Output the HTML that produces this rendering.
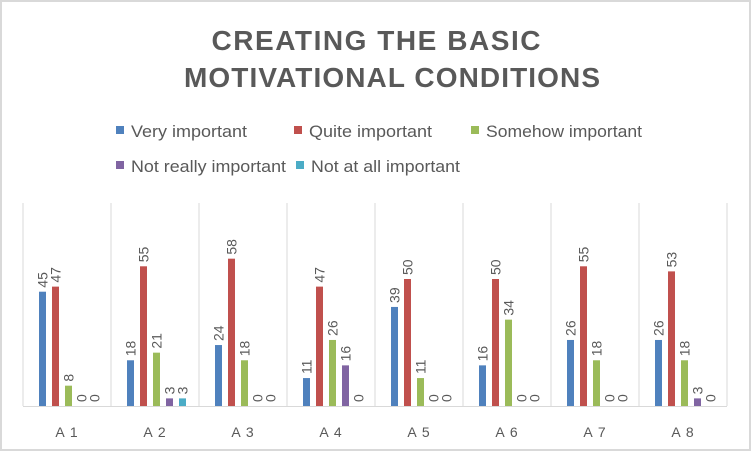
<!DOCTYPE html>
<html><head><style>html,body{margin:0;padding:0;background:#fff}svg{display:block}</style></head>
<body>
<svg width="752" height="452" xmlns="http://www.w3.org/2000/svg" font-family="Liberation Sans, sans-serif">
<rect x="0" y="0" width="752" height="452" fill="#fff"/>
<rect x="1" y="1" width="749" height="449" fill="none" stroke="#d9d9d9" stroke-width="2"/>
<text x="376" y="50" text-anchor="middle" font-size="28" font-weight="bold" fill="#595959" textLength="329" lengthAdjust="spacing">CREATING THE BASIC</text>
<text x="392" y="87" text-anchor="middle" font-size="28" font-weight="bold" fill="#595959" textLength="416" lengthAdjust="spacing">MOTIVATIONAL CONDITIONS</text>
<g font-size="17" fill="#595959">
<rect x="116" y="126" width="8" height="8" fill="#4f81bd"/><text x="131" y="137" textLength="116" lengthAdjust="spacingAndGlyphs">Very important</text>
<rect x="294" y="126" width="8" height="8" fill="#c0504d"/><text x="309" y="137" textLength="123" lengthAdjust="spacingAndGlyphs">Quite important</text>
<rect x="471" y="126" width="8" height="8" fill="#9bbb59"/><text x="486" y="137" textLength="156" lengthAdjust="spacingAndGlyphs">Somehow important</text>
<rect x="116" y="161" width="8" height="8" fill="#8064a2"/><text x="131" y="172" textLength="155" lengthAdjust="spacingAndGlyphs">Not really important</text>
<rect x="296" y="161" width="8" height="8" fill="#4bacc6"/><text x="311" y="172" textLength="149" lengthAdjust="spacingAndGlyphs">Not at all important</text>
</g>
<g id="plot"></g>
</svg>
<script>
var d=[[45,47,8,0,0],[18,55,21,3,3],[24,58,18,0,0],[11,47,26,16,0],[39,50,11,0,0],[16,50,34,0,0],[26,55,18,0,0],[26,53,18,3,0]];
var c=["#4f81bd","#c0504d","#9bbb59","#8064a2","#4bacc6"];
var s='';
for(var i=0;i<=8;i++){var x=23+i*88;s+='<line x1="'+x+'" y1="203" x2="'+x+'" y2="406" stroke="#d9d9d9" stroke-width="1"/>';}
s+='<line x1="23" y1="406.5" x2="727" y2="406.5" stroke="#d9d9d9" stroke-width="1"/>';
for(var i=0;i<8;i++){var x0=23+i*88;
 s+='<text x="'+(x0+44)+'" y="437" text-anchor="middle" font-size="14" fill="#595959" letter-spacing="1">A '+(i+1)+'</text>';
 for(var j=0;j<5;j++){var v=d[i][j];var h=v*2.54;var bx=x0+16+j*13;
  if(v>0)s+='<rect x="'+bx+'" y="'+(406-h)+'" width="7" height="'+h+'" fill="'+c[j]+'"/>';
  var tx=bx+3.5+5,ty=406-h-4;
  s+='<text transform="translate('+tx+','+ty+') rotate(-90)" font-size="14" fill="#595959">'+v+'</text>';
 }}
document.getElementById('plot').innerHTML=s;
</script>
</body></html>
